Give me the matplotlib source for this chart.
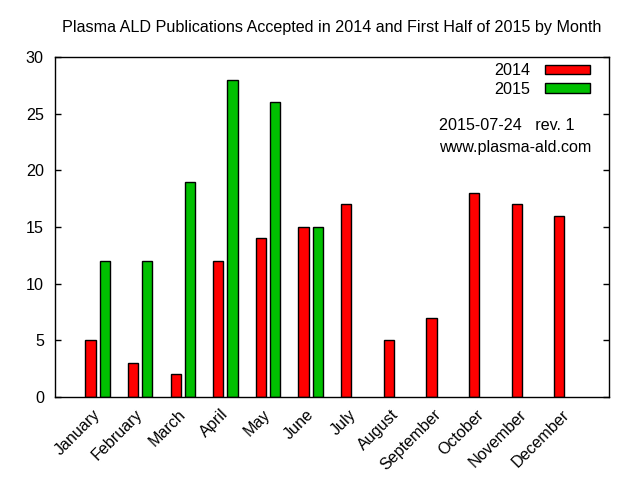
import matplotlib
matplotlib.use("Agg")
import matplotlib.pyplot as plt
import matplotlib.transforms as mtransforms
import numpy as np

plt.rcParams['font.family'] = ['Liberation Sans', 'DejaVu Sans']

months = ['January', 'February', 'March', 'April', 'May', 'June',
          'July', 'August', 'September', 'October', 'November', 'December']
pubs_2014 = [5, 3, 2, 12, 14, 15, 17, 5, 7, 18, 17, 16]
pubs_2015 = [12, 12, 19, 28, 26, 15]

red = '#ff0000'
green = '#00c000'
fs = 11.6

fig = plt.figure(figsize=(6.4, 4.8), dpi=100)
ax = fig.add_axes([55 / 640, 1 - 397 / 480, 554 / 640, 340 / 480])

x14 = np.arange(len(pubs_2014))
x15 = np.arange(len(pubs_2015))
w = 0.24
off = 0.167
ax.bar(x14 - off, pubs_2014, width=w, color=red, edgecolor='black', linewidth=1, label='2014')
ax.bar(x15 + off, pubs_2015, width=w, color=green, edgecolor='black', linewidth=1, label='2015')

ax.set_xlim(-1, 12)
ax.set_ylim(0, 30)
ax.set_yticks(range(0, 31, 5))
ax.tick_params(axis='y', direction='in', length=4, width=1, right=True, labelsize=fs, pad=8)
ax.set_xticks(x14)
ax.set_xticklabels(months, rotation=45, ha='right', rotation_mode='anchor', fontsize=fs)
ax.tick_params(axis='x', length=0, pad=7)
# nudge the rotated month labels a bit to the left
shift = mtransforms.ScaledTranslation(-5 / 100, 0, fig.dpi_scale_trans)
for lab in ax.get_xticklabels():
    lab.set_transform(lab.get_transform() + shift)
for s in ax.spines.values():
    s.set_linewidth(1)

ax.set_title('Plasma ALD Publications Accepted in 2014 and First Half of 2015 by Month',
             fontsize=fs, pad=18)

leg = ax.legend(loc='upper right', frameon=False, fontsize=fs, markerfirst=False,
                handlelength=2.8, handleheight=0.5, handletextpad=0.93,
                borderaxespad=0.0, labelspacing=0.2,
                bbox_to_anchor=(0.978, 1.0))

ax.text(0.693, 0.80, '2015-07-24   rev. 1', transform=ax.transAxes, fontsize=fs,
        ha='left', va='center')
ax.text(0.693, 0.733, 'www.plasma-ald.com', transform=ax.transAxes, fontsize=fs,
        ha='left', va='center')

fig.savefig('out.png', dpi=100)
